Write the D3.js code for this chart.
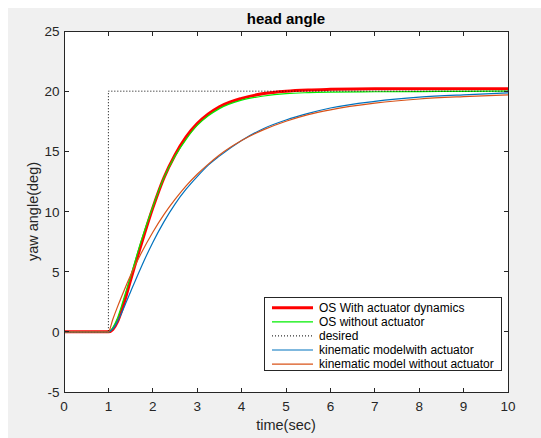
<!DOCTYPE html>
<html><head><meta charset="utf-8">
<script src="https://cdn.jsdelivr.net/npm/d3@7"></script>
<style>
html,body{margin:0;padding:0;background:#fff;}
svg{display:block;font-family:"Liberation Sans",Arial,Helvetica,sans-serif;}
</style></head>
<body>
<svg id="chart" width="541" height="438"></svg>
<script>
// ---- data ----
const time = [0, 0.5, 1, 1.1, 1.2, 1.3, 1.4, 1.5, 1.75, 2, 2.25, 2.5, 2.75, 3, 3.25, 3.5, 4, 4.5, 5, 5.5, 6, 7, 8, 9, 10];
const osWithActuator = [0, 0, 0, 0.2, 0.8, 1.8, 3.0, 4.3, 7.4, 10.3, 12.8, 14.7, 16.2, 17.3, 18.1, 18.7, 19.4, 19.8, 20.0, 20.1, 20.15, 20.2, 20.2, 20.2, 20.2];
const osWithoutActuator = [0, 0, 0, 0.35, 1.1, 2.2, 3.4, 4.6, 7.7, 10.4, 12.8, 14.6, 16.0, 17.15, 17.95, 18.55, 19.25, 19.6, 19.8, 19.88, 19.92, 19.95, 19.97, 19.98, 20.0];
const kinWithActuator = [0, 0, 0, 0.25, 0.83, 1.59, 2.45, 3.33, 5.48, 7.43, 9.14, 10.62, 11.85, 12.9, 13.85, 14.6, 15.9, 16.9, 17.6, 18.15, 18.6, 19.15, 19.5, 19.7, 19.85];
const kinWithoutActuator = [0, 0, 0, 1.05, 2.03, 2.96, 3.85, 4.7, 6.62, 8.28, 9.74, 11.0, 12.13, 13.1, 13.94, 14.7, 15.9, 16.8, 17.5, 18.05, 18.45, 19.0, 19.35, 19.55, 19.7];
const desiredTime = [0, 1, 1, 10];
const desiredValue = [0, 0, 20, 20];
const xTicks = [0, 1, 2, 3, 4, 5, 6, 7, 8, 9, 10];
const yTicks = [-5, 0, 5, 10, 15, 20, 25];
const seriesNames = ["OS With actuator dynamics", "OS without actuator", "desired", "kinematic modelwith actuator", "kinematic model without actuator"];
const seriesColors = ["#ff0000", "#00ee00", "#000000", "#0072BD", "#D95319"];

// ---- layout ----
const svg = d3.select("#chart");
const L = 64, R = 508, T = 31, B = 392;
const axisColor = "#262626";

svg.append("rect").attr("x", 8).attr("y", 8).attr("width", 533).attr("height", 430).attr("fill", "#f0f0f0");
svg.append("rect").attr("x", L).attr("y", T).attr("width", R - L).attr("height", B - T).attr("fill", "#fff");

const x = d3.scaleLinear().domain([0, 10]).range([L, R]);
const y = d3.scaleLinear().domain([-5, 25]).range([B, T]);

const clipId = "plotclip";
svg.append("clipPath").attr("id", clipId).append("rect")
  .attr("x", L).attr("y", T - 2).attr("width", R - L).attr("height", B - T + 4);

const line = d3.line().x(d => x(d[0])).y(d => y(d[1])).curve(d3.curveMonotoneX);
const lineLin = d3.line().x(d => x(d[0])).y(d => y(d[1]));

const g = svg.append("g").attr("clip-path", `url(#${clipId})`);
const zipT = vals => time.map((t, i) => [t, vals[i]]);

g.append("path").attr("d", line(zipT(osWithActuator))).attr("fill", "none").attr("stroke", seriesColors[0]).attr("stroke-width", 3);
g.append("path").attr("d", line(zipT(osWithoutActuator))).attr("fill", "none").attr("stroke", seriesColors[1]).attr("stroke-width", 1.2);
g.append("path").attr("d", lineLin(desiredTime.map((t, i) => [t, desiredValue[i]]))).attr("fill", "none")
  .attr("stroke", seriesColors[2]).attr("stroke-width", 1).attr("stroke-dasharray", "1,2");
g.append("path").attr("d", line(zipT(kinWithActuator))).attr("fill", "none").attr("stroke", seriesColors[3]).attr("stroke-width", 1.2);
g.append("path").attr("d", line(zipT(kinWithoutActuator))).attr("fill", "none").attr("stroke", seriesColors[4]).attr("stroke-width", 1.2);

// ---- axes (MATLAB style box with inward ticks) ----
const tl = 4.5;
const ax = svg.append("g").attr("stroke", axisColor).attr("stroke-width", 1).attr("shape-rendering", "crispEdges");
ax.append("rect").attr("x", L).attr("y", T).attr("width", R - L).attr("height", B - T).attr("fill", "none");
xTicks.forEach(v => {
  ax.append("line").attr("x1", x(v)).attr("x2", x(v)).attr("y1", B).attr("y2", B - tl);
  ax.append("line").attr("x1", x(v)).attr("x2", x(v)).attr("y1", T).attr("y2", T + tl);
});
yTicks.forEach(v => {
  ax.append("line").attr("x1", L).attr("x2", L + tl).attr("y1", y(v)).attr("y2", y(v));
  ax.append("line").attr("x1", R).attr("x2", R - tl).attr("y1", y(v)).attr("y2", y(v));
});

const txt = svg.append("g").attr("fill", axisColor).attr("font-size", 13.5);
xTicks.forEach(v => {
  txt.append("text").attr("x", x(v)).attr("y", 410.5).attr("text-anchor", "middle").text(v);
});
yTicks.forEach(v => {
  txt.append("text").attr("x", 59.5).attr("y", y(v) + 5).attr("text-anchor", "end").text(v);
});

svg.append("text").attr("x", (L + R) / 2).attr("y", 23.5).attr("text-anchor", "middle")
  .attr("font-size", 15).attr("font-weight", "bold").attr("fill", "#000").text("head angle");
svg.append("text").attr("x", (L + R) / 2).attr("y", 430).attr("text-anchor", "middle")
  .attr("font-size", 14.5).attr("fill", axisColor).text("time(sec)");
svg.append("text").attr("transform", `translate(38,${(T + B) / 2}) rotate(-90)`).attr("text-anchor", "middle")
  .attr("font-size", 14.5).attr("fill", axisColor).text("yaw angle(deg)");

// ---- legend ----
const lg = svg.append("g");
lg.append("rect").attr("x", 264.5).attr("y", 297.5).attr("width", 237).attr("height", 73)
  .attr("fill", "#fff").attr("stroke", "#262626").attr("stroke-width", 1);
const rowY0 = 307.7, rowDy = 14.1;
seriesNames.forEach((name, i) => {
  const yy = rowY0 + i * rowDy;
  const ln = lg.append("line").attr("x1", 272).attr("x2", 313).attr("y1", yy).attr("y2", yy)
    .attr("stroke", seriesColors[i]).attr("stroke-width", i === 0 ? 3 : 1.2);
  if (i === 2) ln.attr("stroke-dasharray", "1,2").attr("stroke-width", 1);
  lg.append("text").attr("x", 319).attr("y", yy + 4.3).attr("font-size", 12).attr("fill", "#000").text(name);
});
</script>
</body></html>
